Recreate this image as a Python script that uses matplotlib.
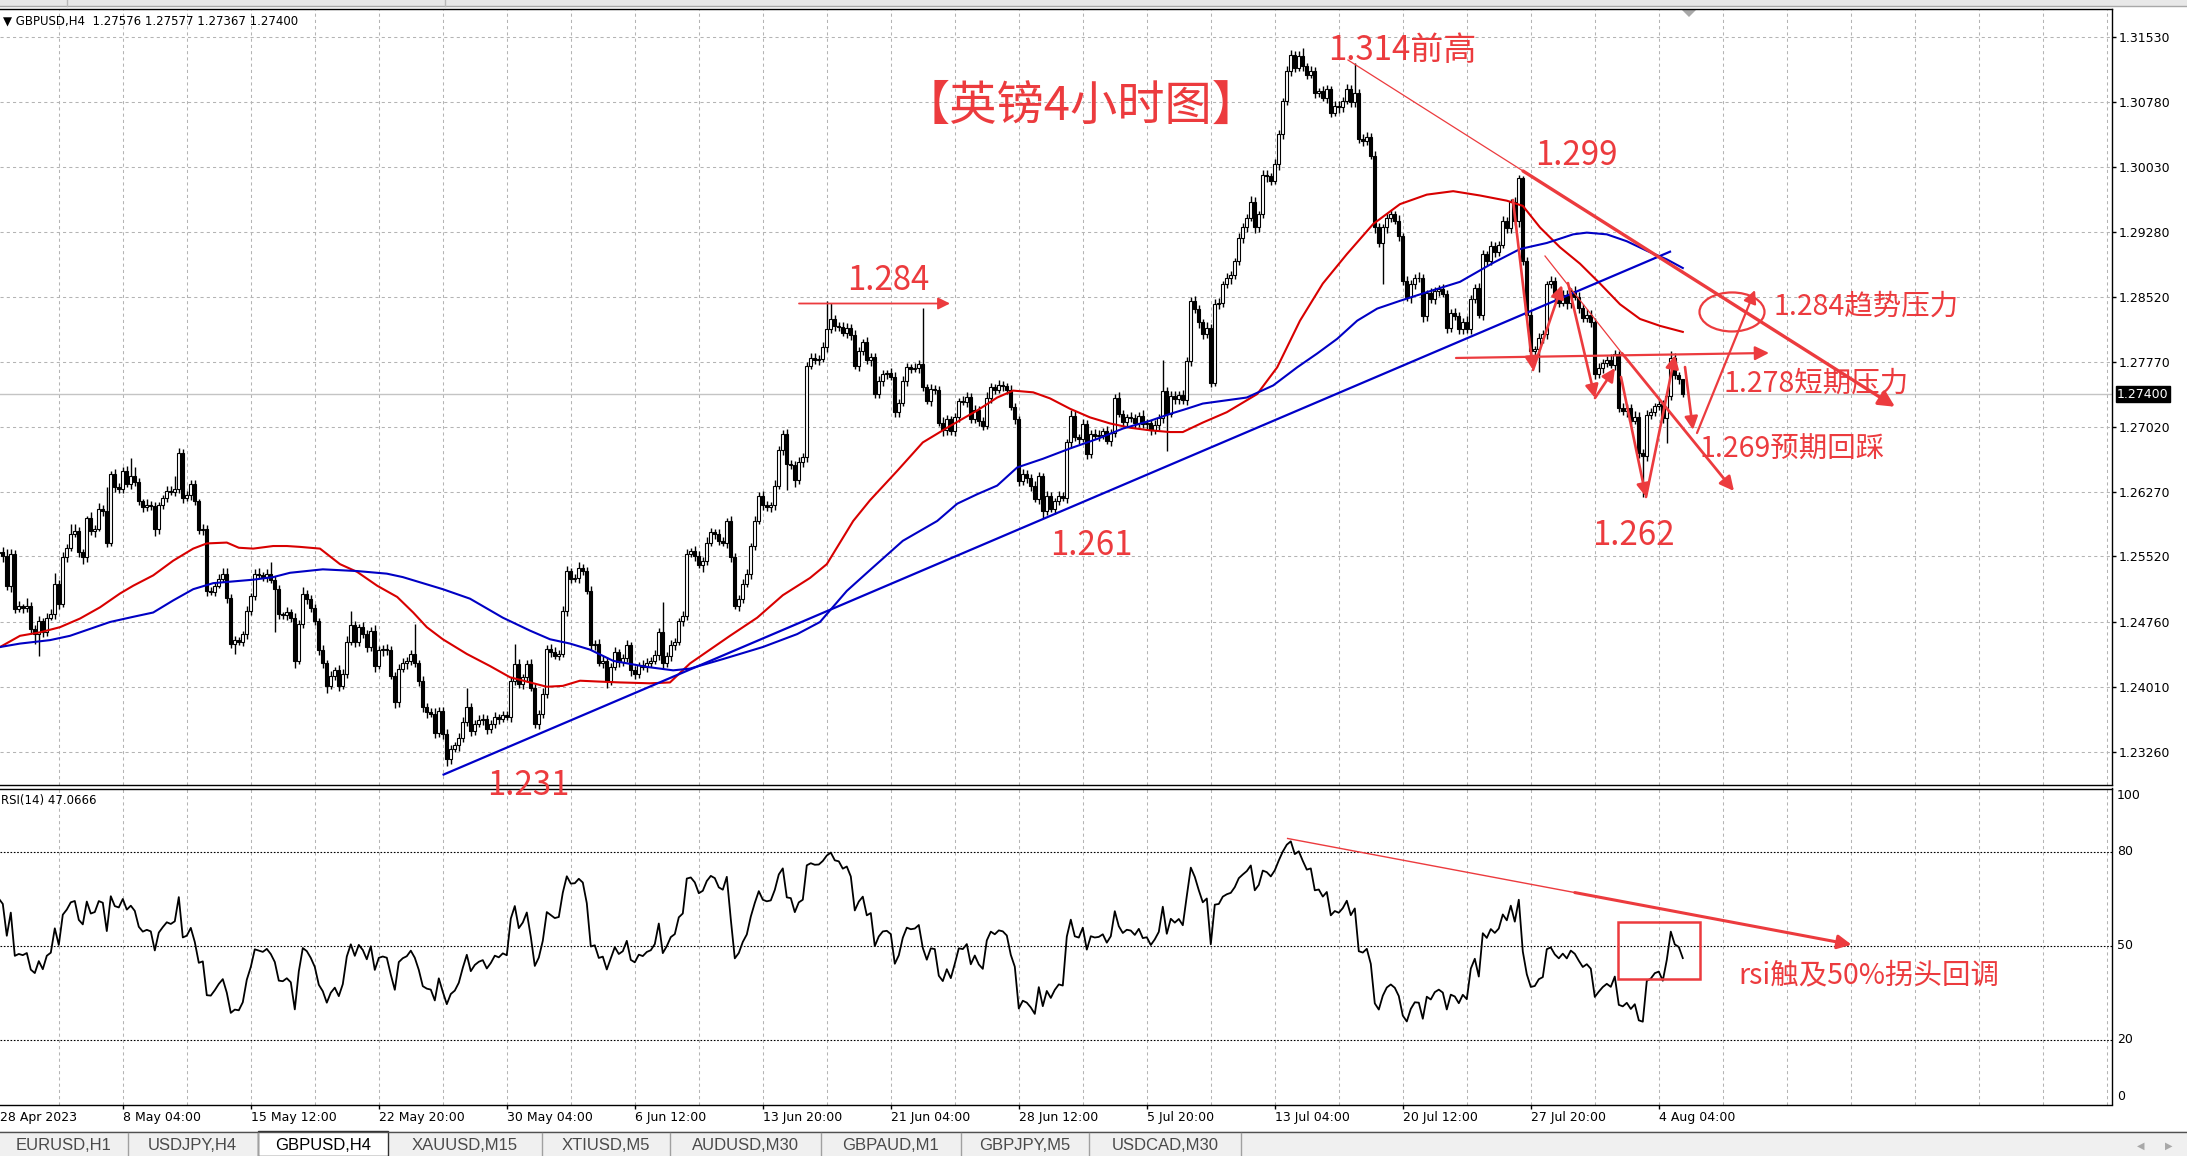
import numpy as np
import matplotlib
matplotlib.use("Agg")
import matplotlib.pyplot as plt
import matplotlib.transforms as mtransforms
from matplotlib.patches import Ellipse, Rectangle, Polygon

W, H = 2187, 1156

# ---------------------------------------------------------------------------
# GBPUSD H4 candles, in pips above 1.2000
# open of each bar = close of the bar before
first_open = 558
closes = [
    556, 557, 552, 518, 555, 491, 494, 492, 495, 468, 462, 477, 464, 481, 485, 520,
    497, 551, 562, 578, 581, 557, 551, 597, 581, 584, 607, 605, 568, 647, 632, 630,
    651, 636, 645, 638, 616, 609, 612, 610, 584, 611, 620, 628, 626, 630, 672, 620,
    623, 636, 616, 582, 584, 512, 511, 518, 526, 532, 504, 451, 455, 453, 462, 489,
    506, 532, 530, 528, 532, 525, 514, 485, 484, 487, 481, 431, 474, 508, 503, 492,
    477, 443, 429, 402, 414, 420, 402, 416, 453, 472, 453, 470, 462, 447, 466, 425,
    443, 445, 443, 414, 383, 422, 428, 431, 439, 428, 408, 377, 372, 370, 348, 373,
    346, 317, 329, 333, 342, 360, 377, 350, 358, 362, 364, 352, 358, 366, 364, 368,
    366, 408, 427, 404, 412, 427, 400, 358, 369, 393, 445, 441, 437, 439, 489, 535,
    526, 527, 539, 535, 512, 449, 451, 429, 431, 408, 424, 441, 430, 434, 449, 420,
    416, 426, 424, 429, 431, 438, 464, 428, 437, 449, 453, 477, 483, 555, 558, 553,
    542, 547, 568, 580, 578, 570, 568, 593, 551, 495, 503, 520, 532, 564, 593, 622,
    611, 609, 611, 634, 675, 694, 659, 658, 640, 661, 667, 773, 782, 780, 781, 794,
    815, 827, 819, 818, 811, 817, 808, 773, 790, 800, 779, 783, 740, 755, 763, 764,
    760, 719, 730, 755, 771, 769, 770, 775, 748, 732, 746, 745, 707, 698, 711, 697,
    713, 732, 731, 737, 711, 721, 709, 703, 736, 748, 745, 750, 749, 745, 725, 711,
    639, 647, 643, 633, 619, 645, 605, 622, 607, 616, 622, 620, 684, 715, 690, 688,
    705, 671, 694, 692, 693, 697, 686, 695, 736, 717, 708, 713, 712, 707, 715, 705,
    706, 698, 704, 712, 744, 717, 738, 734, 739, 733, 778, 848, 838, 823, 809, 817,
    753, 844, 846, 867, 874, 878, 894, 921, 933, 944, 963, 933, 948, 994, 992, 987,
    1006, 1041, 1079, 1114, 1133, 1118, 1131, 1120, 1110, 1114, 1089, 1091, 1083, 1093, 1066, 1074,
    1072, 1080, 1093, 1078, 1089, 1035, 1033, 1038, 1016, 933, 915, 933, 944, 948, 941, 923,
    871, 852, 867, 875, 874, 830, 857, 850, 859, 862, 856, 817, 834, 830, 815, 824,
    815, 850, 863, 832, 902, 894, 911, 905, 913, 940, 932, 962, 940, 990, 894, 832,
    790, 792, 805, 809, 867, 871, 855, 846, 855, 845, 859, 853, 840, 828, 832, 824,
    763, 770, 776, 780, 774, 786, 724, 720, 724, 709, 714, 672, 668, 716, 719, 726,
    728, 712, 738, 782, 762, 758, 740,
]
wick_up = [
    4, 5, 6, 8, 5, 4, 6, 3, 9, 4, 5, 6, 4, 5, 6, 13,
    5, 6, 4, 11, 9, 5, 4, 2, 6, 4, 7, 5, 27, 4, 6, 5,
    4, 6, 21, 10, 5, 3, 6, 4, 5, 4, 3, 6, 5, 15, 6, 4,
    5, 4, 4, 3, 6, 4, 5, 4, 6, 7, 7, 4, 5, 4, 3, 5,
    4, 5, 6, 4, 5, 13, 4, 5, 3, 6, 4, 5, 4, 8, 5, 4,
    5, 4, 6, 3, 5, 4, 6, 5, 7, 17, 5, 4, 6, 5, 4, 6,
    5, 4, 6, 5, 4, 5, 6, 4, 5, 35, 4, 6, 5, 4, 6, 5,
    4, 6, 5, 4, 5, 6, 23, 5, 4, 6, 5, 4, 5, 6, 4, 5,
    5, 4, 23, 6, 4, 5, 6, 4, 5, 6, 4, 5, 6, 4, 5, 6,
    4, 5, 6, 4, 5, 6, 4, 5, 6, 4, 5, 6, 4, 5, 6, 4,
    5, 4, 6, 5, 4, 6, 5, 35, 4, 6, 5, 4, 6, 5, 4, 6,
    5, 4, 6, 5, 4, 6, 5, 4, 6, 5, 4, 6, 5, 4, 6, 5,
    6, 5, 4, 6, 5, 4, 6, 5, 4, 6, 5, 4, 6, 5, 4, 6,
    33, 19, 5, 4, 6, 5, 4, 6, 5, 4, 6, 5, 4, 6, 5, 4,
    6, 5, 4, 6, 5, 4, 6, 5, 65, 4, 6, 5, 4, 6, 5, 4,
    5, 4, 6, 5, 4, 6, 5, 4, 6, 5, 4, 6, 5, 4, 6, 5,
    4, 6, 5, 4, 6, 5, 4, 6, 5, 4, 6, 5, 4, 6, 5, 4,
    6, 5, 4, 6, 5, 4, 6, 5, 4, 6, 5, 4, 6, 5, 4, 6,
    5, 4, 6, 5, 35, 4, 6, 5, 4, 6, 5, 4, 6, 5, 4, 6,
    4, 6, 5, 4, 6, 5, 4, 6, 5, 4, 6, 5, 4, 6, 5, 4,
    6, 5, 4, 6, 6, 4, 6, 10, 4, 6, 5, 4, 6, 5, 4, 6,
    5, 4, 6, 5, 35, 4, 6, 5, 4, 6, 5, 4, 6, 5, 4, 6,
    4, 6, 5, 4, 6, 5, 4, 6, 5, 4, 6, 5, 4, 6, 5, 4,
    6, 5, 4, 6, 5, 4, 6, 5, 4, 6, 5, 4, 6, 4, 2, 5,
    5, 4, 6, 5, 4, 6, 5, 4, 6, 5, 4, 6, 5, 4, 6, 5,
    4, 6, 5, 4, 6, 5, 4, 6, 5, 4, 6, 5, 4, 6, 5, 4,
    6, 5, 4, 8, 6, 4, 0,
]
wick_dn = [
    5, 4, 6, 5, 7, 5, 4, 6, 5, 6, 12, 25, 5, 4, 3, 6,
    6, 4, 5, 4, 3, 6, 8, 5, 4, 7, 3, 6, 5, 4, 6, 5,
    5, 4, 6, 5, 4, 6, 5, 4, 8, 6, 4, 5, 3, 4, 5, 6,
    4, 6, 5, 4, 5, 6, 4, 5, 3, 4, 6, 5, 12, 4, 5, 6,
    5, 4, 3, 5, 6, 4, 50, 5, 4, 6, 5, 8, 4, 5, 6, 4,
    4, 5, 6, 8, 4, 5, 6, 4, 5, 4, 6, 5, 4, 6, 5, 7,
    4, 6, 5, 4, 7, 5, 4, 6, 5, 4, 6, 5, 7, 4, 6, 5,
    6, 8, 5, 4, 6, 5, 4, 6, 5, 4, 5, 6, 4, 5, 6, 4,
    4, 6, 5, 4, 6, 5, 4, 5, 6, 4, 5, 6, 4, 5, 4, 6,
    5, 4, 6, 5, 4, 6, 5, 4, 6, 8, 5, 4, 6, 5, 4, 6,
    6, 5, 4, 6, 5, 4, 6, 5, 4, 6, 5, 4, 6, 5, 4, 6,
    4, 8, 5, 4, 6, 5, 4, 6, 5, 4, 6, 5, 4, 6, 5, 4,
    5, 4, 6, 5, 4, 6, 30, 5, 8, 4, 5, 6, 4, 5, 6, 4,
    5, 4, 6, 5, 4, 6, 5, 4, 6, 5, 4, 6, 5, 4, 6, 5,
    4, 6, 5, 4, 6, 5, 4, 6, 5, 4, 6, 5, 4, 6, 5, 4,
    6, 5, 4, 6, 5, 4, 6, 5, 4, 6, 5, 4, 6, 5, 4, 6,
    5, 4, 6, 5, 4, 6, 8, 5, 4, 6, 5, 4, 6, 5, 4, 6,
    4, 6, 5, 4, 6, 5, 4, 6, 5, 4, 6, 5, 4, 6, 5, 4,
    6, 5, 4, 6, 5, 43, 4, 6, 5, 4, 6, 5, 4, 6, 5, 4,
    5, 4, 6, 5, 4, 6, 5, 4, 6, 5, 4, 6, 5, 4, 6, 5,
    4, 6, 5, 4, 6, 5, 4, 6, 5, 4, 6, 5, 4, 6, 5, 4,
    6, 5, 4, 6, 5, 4, 6, 5, 4, 6, 5, 48, 6, 5, 4, 6,
    5, 4, 6, 5, 4, 6, 5, 4, 6, 5, 4, 6, 5, 4, 6, 5,
    4, 6, 5, 4, 6, 5, 4, 6, 5, 4, 6, 5, 4, 6, 5, 4,
    6, 5, 27, 6, 5, 4, 6, 5, 4, 6, 5, 4, 6, 5, 4, 6,
    5, 4, 6, 5, 4, 6, 5, 4, 6, 5, 4, 6, 47, 6, 5, 4,
    4, 6, 29, 5, 4, 6, 3,
]

# moving averages as drawn (bar index, pips above 1.2000)
red_ma_x = [1.3, 6.3, 11.3, 16.3, 21.3, 26.3, 31.3, 34.6, 39.6, 44.6,
            49.6, 53, 58, 61, 64.6, 69.6, 73, 76.3, 81.3, 86.3,
            90.6, 95.6, 100.6, 104.6, 108, 112, 118, 123.8, 128.8, 133.8,
            138, 142, 146.3, 151, 156.3, 163.8, 168.8, 173.8, 183.8, 190.6,
            197, 203.8, 208, 214.6, 218.8, 225.6, 232, 238.8, 245.6, 250.6,
            254.6, 259.6, 263.8, 268.8, 273.8, 278.8, 283.8, 288.8, 293.8, 297,
            302, 308, 315.6, 320.6, 326.3, 332, 338, 344.6, 351.3, 358,
            364.6, 371.3, 378, 382, 386.3, 391.3, 396.3, 401.3, 406.3, 411.3,
            416.3, 422]
red_ma_v = [447, 460, 464, 470, 480, 493, 509, 518, 530, 547,
            561, 567, 568, 562, 561, 564, 564, 563, 561, 543,
            534, 518, 505, 487, 470, 456, 439, 425, 412, 406,
            401, 402, 408, 407, 406, 405, 406, 428, 460, 481,
            507, 527, 543, 593, 617, 651, 684, 703, 721, 736,
            744, 742, 735, 723, 713, 706, 701, 698, 696, 696,
            707, 719, 740, 771, 825, 868, 902, 937, 960, 971,
            975, 970, 964, 958, 933, 910, 891, 868, 844, 827,
            819, 812]
blue_ma_x = [1.3, 6.3, 13.8, 18.8, 23.8, 28.8, 34.6, 39.6, 44.6, 49.6,
             54.6, 59.6, 64.6, 69.6, 73.8, 82, 90.6, 98, 102, 112,
             118.8, 127, 133.8, 138.8, 143.8, 148.8, 154.6, 163, 169.6, 173.8,
             182, 192, 200.6, 206.3, 213, 219, 227, 235.6, 240.6, 245.6,
             250.6, 255.6, 262, 268.8, 275.6, 282, 288.8, 293.8, 298, 302,
             313, 319.6, 325.6, 330.6, 335.6, 340.6, 345.6, 351.3, 358, 366.3,
             374.6, 381.3, 388, 394.6, 398, 403, 408, 413, 418, 422]
blue_ma_v = [447, 451, 455, 460, 468, 476, 482, 487, 501, 514,
             521, 523, 525, 528, 533, 537, 535, 532, 528, 514,
             503, 481, 466, 456, 451, 444, 431, 424, 420, 422,
             433, 447, 462, 476, 512, 537, 570, 593, 613, 624,
             634, 655, 665, 677, 688, 700, 709, 717, 723, 729,
             736, 750, 771, 787, 804, 825, 839, 848, 858, 870,
             892, 908, 915, 925, 927, 925, 917, 906, 896, 886]

# RSI(14) Wilder averages before the first visible bar (pips)
rsi_seed_gain = 10.0
rsi_seed_loss = 5.4

price_ticks = [1.31530, 1.30780, 1.30030, 1.29280, 1.28520, 1.27770,
               1.27020, 1.26270, 1.25520, 1.24760, 1.24010, 1.23260]
last_price = 1.27400
rsi_levels = [20, 50, 80]
rsi_labels = [0, 20, 50, 80, 100]
date_labels = ["28 Apr 2023", "8 May 04:00", "15 May 12:00", "22 May 20:00",
               "30 May 04:00", "6 Jun 12:00", "13 Jun 20:00", "21 Jun 04:00",
               "28 Jun 12:00", "5 Jul 20:00", "13 Jul 04:00", "20 Jul 12:00",
               "27 Jul 20:00", "4 Aug 04:00"]
header = "\u25BC GBPUSD,H4  1.27576 1.27577 1.27367 1.27400"
rsi_header = "RSI(14) 47.0666"
tabs = ["EURUSD,H1", "USDJPY,H4", "GBPUSD,H4", "XAUUSD,M15", "XTIUSD,M5",
        "AUDUSD,M30", "GBPAUD,M1", "GBPJPY,M5", "USDCAD,M30"]
active_tab = "GBPUSD,H4"

# objects drawn on the chart (bar index, price)
trend_up = ([112.2, 418.8], [1.22993, 1.29049])
res_thin = ([338.3, 382.05], [1.31269, 1.29984])
res_thick = ([382.05, 475.05], [1.29984, 1.27253])
down2_thin = ([387.55, 406.8], [1.28999, 1.27872])
down2_thick = ([406.8, 434.8], [1.27872, 1.26277])
arrow_1284 = ([201.05, 238.8], [1.28449, 1.28449])
arrow_1278 = ([365.3, 443.55], [1.27818, 1.27876])
zigzag = [
    ((379.55, 1.29648), (384.55, 1.27679)),
    ((384.55, 1.27679), (391.8, 1.28663)),
    ((393.3, 1.28686), (400.05, 1.27354)),
    ((400.05, 1.27354), (405.05, 1.27702)),
    ((406.55, 1.27598), (412.8, 1.26208)),
    ((412.8, 1.26208), (420.05, 1.27852)),
    ((422.55, 1.27713), (424.55, 1.26984)),
]
rebound = ((425.55, 1.26949), (440.05, 1.28605))
ellipse_c, ellipse_w, ellipse_h = (434.3, 1.28351), 16.25, 0.00452
notes = [  # text, bar, baseline price, size
    ("1.314前高", 333.3, 1.31269, 23.8),
    ("1.299", 385.05, 1.30053, 23.8),
    ("1.284", 213.05, 1.28605, 23.8),
    ("1.261", 263.8, 1.25536, 23.8),
    ("1.231", 123.05, 1.22760, 23.8),
    ("1.262", 399.3, 1.25652, 23.8),
    ("1.284趋势压力", 444.55, 1.28316, 20.5),
    ("1.278短期压力", 432.05, 1.27424, 20.5),
    ("1.269预期回踩", 426.3, 1.26659, 20.5),
]
title = ("【英镑4小时图】", 271.55, 1.30725)
rsi_trend_thin = ([323.2, 395.0], [84.3, 67.04])
rsi_trend_thick = ([395.0, 464.2], [67.04, 50.4])
rsi_box = (405.8, 39.5, 20.5, 18.0)
rsi_note = ("rsi触及50%拐头回调", 435.8, 40.7)

# ---------------------------------------------------------------------------
RED = "#ec3b3e"
CJK = ["Noto Sans CJK SC", "DejaVu Sans"]
GRID = dict(color="#b4b4b4", lw=0.75, ls=(0, (3, 3)), zorder=0.5)


def pip(v):
    return 1.2 + np.asarray(v, dtype=float) / 1e4


def arrow(ax, p0, p1, lw, ms=14):
    ax.annotate("", xy=p1, xytext=p0, xycoords="data", annotation_clip=False,
                arrowprops=dict(arrowstyle="-|>,head_length=0.6,head_width=0.3",
                                color=RED, lw=lw, shrinkA=0, shrinkB=0,
                                mutation_scale=ms), zorder=6)


c = np.array(closes, dtype=float)
o = np.concatenate([[first_open], c[:-1]])
assert len(c) == len(wick_up) == len(wick_dn)
hi = np.maximum(o, c) + np.array(wick_up)
lo = np.minimum(o, c) - np.array(wick_dn)
bars = np.arange(len(c))

# RSI, Wilder smoothing
ag, al = rsi_seed_gain, rsi_seed_loss
rsi = [100 - 100 / (1 + ag / al)]
for d in np.diff(c):
    ag = (ag * 13 + max(d, 0)) / 14
    al = (al * 13 + max(-d, 0)) / 14
    rsi.append(100 - 100 / (1 + ag / al))

fig = plt.figure(figsize=(W / 100, H / 100), dpi=100)
plot_w = 2112
ov = fig.add_axes([0, 0, 1, 1])
ov.set_xlim(0, W)
ov.set_ylim(H, 0)
ov.axis("off")
ov.set_zorder(0)

ax = fig.add_axes([0, 1 - 785 / H, plot_w / W, (785 - 9.3) / H])
axr = fig.add_axes([0, 1 - 1104.5 / H, plot_w / W, (1104.5 - 788.5) / H])
axr.set_zorder(1)
ax.set_zorder(2)
ax.patch.set_alpha(0)

xlim = (1.3, 1.3 + plot_w / 4)
for a in (ax, axr):
    a.set_xlim(*xlim)
    a.spines["left"].set_visible(False)
    for s in ("top", "right", "bottom"):
        a.spines[s].set_color("black")
        a.spines[s].set_linewidth(1.0)
    for g in range(16, int(xlim[1]) + 1, 16):
        a.axvline(g, **GRID)

# ---- price panel
ax.set_ylim(1.228720, 1.318566)
for t in price_ticks:
    ax.axhline(t, **GRID)
ax.axhline(last_price, color="#c4c4c4", lw=1.0, zorder=0.6)
ax.yaxis.tick_right()
ax.set_yticks(price_ticks)
ax.set_yticklabels([f"{t:.5f}" for t in price_ticks])
ax.tick_params(axis="y", length=3, width=1, pad=1.5, labelsize=9)
ax.set_xticks([])

ax.vlines(bars, pip(lo), pip(hi), color="black", lw=1.0, zorder=2)
body_lo = np.minimum(o, c)
body_h = np.maximum(np.abs(c - o), 0.2)
ax.bar(bars, body_h / 1e4, bottom=pip(body_lo), width=0.72,
       color=np.where(c >= o, "white", "black"), edgecolor="black",
       linewidth=0.8, zorder=2.1)

ax.plot(red_ma_x, pip(red_ma_v), color="#d80000", lw=1.5, zorder=3)
ax.plot(blue_ma_x, pip(blue_ma_v), color="#0000c4", lw=1.5, zorder=3)
ax.plot(*trend_up, color="#0000c8", lw=1.6, zorder=3)

ax.text(1 + 5 / plot_w, last_price, f"{last_price:.5f}", color="white",
        fontsize=9, va="center", ha="left",
        transform=mtransforms.blended_transform_factory(ax.transAxes, ax.transData),
        bbox=dict(boxstyle="square,pad=0.12", fc="black", ec="black"),
        clip_on=False, zorder=7)

# ---- hand drawn notes on price panel
ax.plot(*res_thin, color=RED, lw=0.9, zorder=5, clip_on=False)
arrow(ax, (res_thick[0][0], res_thick[1][0]), (res_thick[0][1], res_thick[1][1]), 2.4, 16)
ax.plot(*down2_thin, color=RED, lw=0.9, zorder=5, clip_on=False)
arrow(ax, (down2_thick[0][0], down2_thick[1][0]), (down2_thick[0][1], down2_thick[1][1]), 2.0, 14)
arrow(ax, (arrow_1284[0][0], arrow_1284[1][0]), (arrow_1284[0][1], arrow_1284[1][1]), 1.3, 12)
arrow(ax, (arrow_1278[0][0], arrow_1278[1][0]), (arrow_1278[0][1], arrow_1278[1][1]), 1.6, 14)
for p0, p1 in zigzag:
    arrow(ax, p0, p1, 1.9, 13)
arrow(ax, rebound[0], rebound[1], 1.6, 13)
ax.add_patch(Ellipse(ellipse_c, ellipse_w, ellipse_h, fill=False, ec=RED,
                     lw=1.6, zorder=6, clip_on=False))
for txt, bx, py, size in notes:
    ax.text(bx, py, txt, color=RED, fontsize=size, family=CJK, ha="left",
            va="baseline", zorder=7, clip_on=False)
ax.text(title[1], title[2], title[0], color=RED, fontsize=34, family=CJK,
        ha="center", va="center", zorder=7)

# ---- RSI panel
axr.set_ylim(-0.6, 100.25)
for lv in rsi_levels:
    axr.axhline(lv, color="black", lw=0.8, ls=(0, (1.5, 1.5)), zorder=0.6)
axr.plot(bars, rsi, color="black", lw=1.3, zorder=3)
axr.set_yticks([])
tick_bars = [32 * j for j in range(len(date_labels))]
axr.set_xticks([b for b in tick_bars if b >= xlim[0]])
axr.tick_params(axis="x", length=3, width=1, labelbottom=False)
blend_r = mtransforms.blended_transform_factory(axr.transAxes, axr.transData)
for lv in rsi_labels:
    va = "top" if lv == 100 else ("bottom" if lv == 0 else "center")
    axr.text(1 + 5 / plot_w, lv, str(lv), fontsize=9, va=va, ha="left",
             transform=blend_r, clip_on=False)
blend_d = mtransforms.blended_transform_factory(axr.transData, fig.transFigure)
for b, lab in zip(tick_bars, date_labels):
    # first label sits at the very left edge of the window
    axr.text(max(b, xlim[0]), 1 - 1117 / H, lab, fontsize=9, ha="left",
             va="center", transform=blend_d, clip_on=False)

axr.plot(*rsi_trend_thin, color=RED, lw=1.0, zorder=5)
arrow(axr, (rsi_trend_thick[0][0], rsi_trend_thick[1][0]),
      (rsi_trend_thick[0][1], rsi_trend_thick[1][1]), 2.2, 14)
axr.add_patch(Rectangle(rsi_box[:2], rsi_box[2], rsi_box[3], fill=False,
                        ec=RED, lw=1.8, zorder=6))
axr.text(rsi_note[1], rsi_note[2], rsi_note[0], color=RED, fontsize=20.5,
         family=CJK, ha="left", va="center", zorder=7)

fig.text(3 / W, 1 - 21 / H, header, fontsize=8.5, va="center", ha="left")
fig.text(1 / W, 1 - 800.5 / H, rsi_header, fontsize=8.5, va="center", ha="left")

# ---- window chrome (top strip, shift marker, symbol tabs)
ov.add_patch(Rectangle((0, 0), W, 6, fc="#e8e8e8", ec="none"))
ov.plot([0, W], [6, 6], color="#a8a8a8", lw=1)
for sx in (67, 445):
    ov.plot([sx, sx], [0, 6], color="#b8b8b8", lw=1)
ov.add_patch(Polygon([(1682, 10), (1696, 10), (1689, 17)], fc="#a9a9a9", ec="none", zorder=8))

tab_edges = [0, 128, 257.5, 388, 541.6, 670, 820.8, 961, 1089, 1240.7]
ov.add_patch(Rectangle((0, 1131), W, H - 1131, fc="#f0f0f0", ec="none"))
ov.plot([0, W], [1131.5, 1131.5], color="#505050", lw=1)
for i, name in enumerate(tabs):
    x0, x1 = tab_edges[i], tab_edges[i + 1]
    if name == active_tab:
        ov.add_patch(Rectangle((x0, 1131), x1 - x0, H - 1131, fc="white",
                               ec="#303030", lw=1))
        col = "black"
    else:
        ov.plot([x1, x1], [1133, H], color="#a0a0a0", lw=1)
        col = "#4a4a4a"
    ov.text((x0 + x1) / 2, 1146, name, fontsize=12, family="Liberation Sans",
            color=col, ha="center", va="center")
ov.text(2141, 1146, "\u25C0", fontsize=7, color="#a8a8a8", ha="center", va="center")
ov.text(2169, 1146, "\u25B6", fontsize=7, color="#a8a8a8", ha="center", va="center")

fig.savefig("out.png", dpi=100)
